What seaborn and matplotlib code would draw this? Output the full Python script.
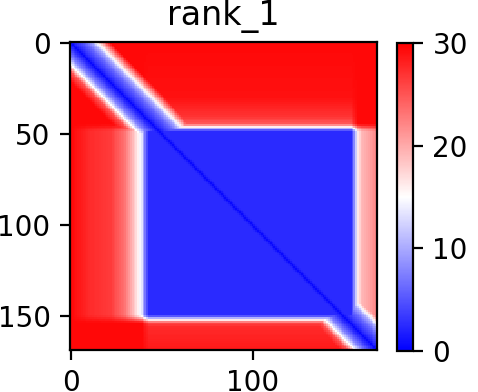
import numpy as np
import matplotlib
matplotlib.use("Agg")
import matplotlib.pyplot as plt
import seaborn as sns

# ---- data ----
title = "rank_1"
n_res = 169
# soft membership of rows / columns in the folded domain (edge knots)
dom_row_knots = [44.5, 48.5, 149.5, 153.5]
dom_col_knots = [39.0, 43.0, 154.0, 158.0]
domain_level = 2.5            # error inside the folded domain
outside_level = 29.5          # error between disordered termini
# error of domain rows against columns outside the domain
side_col_knots = [0, 10, 22, 30, 36, 40, 43, 154, 157, 160, 168]
side_col_vals = [29.5, 27.5, 26.5, 23, 17, 12, 10, 10, 15, 19, 22]
# error of domain columns against rows outside the domain
side_row_knots = [0, 30, 40, 46, 150, 156, 168]
side_row_vals = [29.5, 29, 27, 24, 23, 27.5, 28.5]
# local (near-diagonal) error vs sequence separation
band_off = [0, 1, 3, 8, 12, 16, 22]
band_upper = [0.5, 1.5, 3, 6, 10, 18, 30]
band_lower = [0.5, 1.5, 3, 8, 15, 25, 30]
cbar_ticks = [0, 10, 20, 30]
x_ticks = [0, 100]
y_ticks = [0, 50, 100, 150]

# ---- build matrix ----
idx = np.arange(n_res)
a = np.interp(idx, dom_row_knots, [0, 1, 1, 0])[:, None]
b = np.interp(idx, dom_col_knots, [0, 1, 1, 0])[None, :]
Lc = np.interp(idx, side_col_knots, side_col_vals)[None, :]
Lr = np.interp(idx, side_row_knots, side_row_vals)[:, None]
M = (a * b * domain_level + a * (1 - b) * Lc + (1 - a) * b * Lr
     + (1 - a) * (1 - b) * outside_level)
d = idx[None, :] - idx[:, None]
B = np.where(d >= 0, np.interp(np.abs(d), band_off, band_upper),
             np.interp(np.abs(d), band_off, band_lower))
M = np.minimum(M, B)

# ---- plot ----
W, H = 478, 392
fig = plt.figure(figsize=(W / 200, H / 200), dpi=200)
ax = fig.add_axes([70 / W, 1 - 350 / H, 307 / W, 308 / H])
cax = fig.add_axes([397 / W, 1 - 351 / H, 16 / W, 308 / H])

sns.heatmap(M, ax=ax, cbar_ax=cax, cmap="bwr", vmin=0, vmax=30,
            xticklabels=False, yticklabels=False, cbar=True)

ax.set_xticks(np.array(x_ticks) + 0.5)
ax.set_xticklabels([str(t) for t in x_ticks], rotation=0)
ax.set_yticks(np.array(y_ticks) + 0.5)
ax.set_yticklabels([str(t) for t in y_ticks], rotation=0)
ax.tick_params(length=3.5, width=0.8, labelsize=10)
for s in ax.spines.values():
    s.set_visible(True)
    s.set_linewidth(0.8)
ax.set_title(title, fontsize=12)

cb = ax.collections[0].colorbar
cb.outline.set_linewidth(0.8)
cb.set_ticks(cbar_ticks)
cb.ax.tick_params(labelsize=10, length=3.5, width=0.8)

fig.savefig("out.png", dpi=200)
